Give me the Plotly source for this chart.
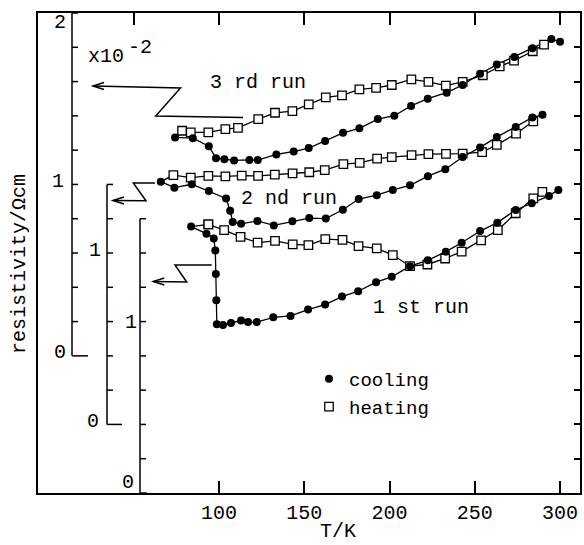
import plotly.graph_objects as go

# ---------------- data (resistivity in units of 1e-2 ohm cm, each run on its own axis) ----------------
run1_cool_T = [83.6, 92.6, 96.9, 97.8, 98.1, 98.4, 98.7, 102.3, 107.0, 112.9, 117.0, 122.1, 131.8, 141.9,
               152.2, 162.2, 172.1, 181.6, 192.1, 201.3, 212.0, 222.4, 233.0, 242.3, 253.1, 263.2, 274.0,
               283.4, 293.5, 299.0]
run1_cool_rho = [1.554, 1.513, 1.485, 1.415, 1.277, 1.125, 0.984, 0.980, 0.992, 1.006, 0.997, 0.997, 1.025,
                 1.033, 1.070, 1.099, 1.146, 1.177, 1.230, 1.261, 1.323, 1.357, 1.408, 1.460, 1.528, 1.577,
                 1.651, 1.690, 1.733, 1.768]
run1_heat_T = [93.7, 103.0, 112.6, 122.6, 132.8, 143.2, 152.4, 162.3, 172.4, 181.8, 192.5, 201.9, 212.0,
               222.2, 232.6, 242.3, 253.7, 263.5, 274.0, 284.3, 289.6]
run1_heat_rho = [1.567, 1.533, 1.494, 1.460, 1.471, 1.450, 1.446, 1.481, 1.477, 1.440, 1.427, 1.388, 1.323,
                 1.333, 1.368, 1.408, 1.474, 1.534, 1.632, 1.719, 1.756]

run2_cool_T = [65.8, 73.8, 84.0, 94.0, 104.1, 106.5, 108.0, 112.9, 122.5, 132.1, 143.0, 152.9, 162.6, 172.6,
               181.9, 192.5, 201.9, 212.0, 222.5, 232.7, 242.9, 253.1, 262.9, 274.0, 283.8, 289.7]
run2_cool_rho = [1.416, 1.381, 1.401, 1.362, 1.318, 1.247, 1.181, 1.170, 1.187, 1.161, 1.185, 1.204, 1.201,
                 1.252, 1.315, 1.337, 1.368, 1.395, 1.448, 1.489, 1.560, 1.616, 1.676, 1.735, 1.791, 1.806]
run2_heat_T = [73.2, 83.4, 93.7, 103.7, 113.3, 122.9, 132.7, 143.1, 152.9, 162.0, 172.9, 182.5, 192.7, 201.3,
               212.9, 222.8, 233.1, 242.9, 254.3, 262.9, 274.2, 284.3]
run2_heat_rho = [1.454, 1.440, 1.450, 1.447, 1.451, 1.450, 1.457, 1.465, 1.471, 1.484, 1.518, 1.526, 1.551,
                 1.559, 1.571, 1.577, 1.578, 1.580, 1.588, 1.631, 1.696, 1.768]

run3_cool_T = [74.2, 84.6, 94.0, 98.2, 103.1, 108.8, 117.8, 122.7, 133.6, 143.8, 152.6, 162.2, 172.7, 182.3,
               193.1, 202.8, 212.6, 222.4, 233.5, 242.9, 253.1, 262.9, 273.2, 283.8, 294.9, 300.0]
run3_cool_rho = [1.274, 1.270, 1.223, 1.153, 1.147, 1.140, 1.143, 1.142, 1.175, 1.192, 1.212, 1.253, 1.301,
                 1.327, 1.381, 1.401, 1.458, 1.500, 1.535, 1.580, 1.646, 1.699, 1.744, 1.795, 1.849, 1.832]
run3_heat_T = [78.3, 83.4, 93.7, 103.7, 111.1, 123.0, 132.8, 143.0, 152.6, 162.6, 172.1, 182.3, 192.1, 201.3,
               212.8, 222.8, 233.0, 242.9, 254.7, 264.6, 273.0, 284.0, 290.6]
run3_heat_rho = [1.313, 1.304, 1.304, 1.323, 1.330, 1.381, 1.418, 1.428, 1.467, 1.508, 1.520, 1.555, 1.563,
                 1.580, 1.613, 1.598, 1.576, 1.598, 1.637, 1.689, 1.722, 1.777, 1.816]

run_labels = ["1 st run", "2 nd run", "3 rd run"]
run_offsets = [0.0, 0.4, 0.8]          # vertical shift of each run's own axis
x_tick_vals = [100, 150, 200, 250, 300]
top_tick_vals = [50, 100, 150, 200, 250, 300]

# ---------------- layout geometry (page pixels; body margin removed in post_script) ----------------
W, H = 584, 545
PAGE_L, PAGE_R, PAGE_T, PAGE_B = 38, 580, 13, 493
ML, MT = PAGE_L, PAGE_T
MR = W - PAGE_R
MB = H - PAGE_B
PW, PH = PAGE_R - PAGE_L, PAGE_B - PAGE_T
XR = [-6.2, 311.7]
YR = [0.0, 2.8]
FONT = "Liberation Mono, Courier New, monospace"


def pxp(px):
    return (px - PAGE_L) / PW


def pyp(py):
    return (PAGE_B - py) / PH


def py2y(py):
    return YR[0] + pyp(py) * (YR[1] - YR[0])


fig = go.Figure()

runs = [
    (run1_cool_T, run1_cool_rho, run1_heat_T, run1_heat_rho),
    (run2_cool_T, run2_cool_rho, run2_heat_T, run2_heat_rho),
    (run3_cool_T, run3_cool_rho, run3_heat_T, run3_heat_rho),
]
LW = 1.3
for i, (cT, cR, hT, hR) in enumerate(runs):
    off = run_offsets[i]
    cY = [v + off for v in cR]
    hY = [v + off for v in hR]
    # heating starts where cooling ended (lowest temperature)
    fig.add_trace(go.Scatter(x=[cT[0]] + hT, y=[cY[0]] + hY, mode="lines",
                             line=dict(color="black", width=LW), showlegend=False, hoverinfo="skip"))
    fig.add_trace(go.Scatter(x=cT, y=cY, mode="lines",
                             line=dict(color="black", width=LW), showlegend=False, hoverinfo="skip"))
    fig.add_trace(go.Scatter(x=hT, y=hY, mode="markers", name="heating", legendgroup="h",
                             marker=dict(symbol="square", size=8.5, color="white",
                                         line=dict(color="black", width=1.3)),
                             showlegend=False))
    fig.add_trace(go.Scatter(x=cT, y=cY, mode="markers", name="cooling", legendgroup="c",
                             marker=dict(symbol="circle", size=8, color="black"),
                             showlegend=(i == 0), legendrank=1))

# legend entry for heating
fig.add_trace(go.Scatter(x=[run1_heat_T[0]], y=[run1_heat_rho[0]], mode="markers", name="heating",
                         legendgroup="h", legendrank=2,
                         marker=dict(symbol="square", size=8.5, color="white",
                                     line=dict(color="black", width=1.3)),
                         showlegend=True))

# invisible trace to carry the secondary (top/right) axes
fig.add_trace(go.Scatter(x=[XR[0]], y=[YR[0]], xaxis="x2", yaxis="y2", mode="markers",
                         marker=dict(opacity=0), showlegend=False, hoverinfo="skip"))

shapes = []
annos = []


def line(x0, y0, x1, y1, xref="paper", yref="y", w=1.5):
    shapes.append(dict(type="line", x0=x0, y0=y0, x1=x1, y1=y1, xref=xref, yref=yref,
                       line=dict(color="black", width=w)))


def text(px, py, s, size=20, angle=0):
    annos.append(dict(x=pxp(px), y=pyp(py), xref="paper", yref="paper", text=s, showarrow=False,
                      textangle=angle, xanchor="center", yanchor="middle",
                      font=dict(family=FONT, size=size, color="black")))


# inner axes: (axis pixel x, bottom value in C units, top value, bottom L length)
inner_axes = [
    (72, 0.8, 2.8, 16),
    (107, 0.4, 1.8, 15),
    (140, 0.0, 1.6, 7),
]
for ax_px, lo, hi, Llen in inner_axes:
    line(pxp(ax_px), lo, pxp(ax_px), hi)
    n = int(round((hi - lo) / 0.2))
    for k in range(n + 1):
        v = lo + 0.2 * k
        ln = Llen if k == 0 else 6
        line(pxp(ax_px), v, pxp(ax_px + ln), v)

# inner axis labels
text(60, 22, "2"); text(58, 181, "1"); text(60, 353, "0")
text(95, 250, "1"); text(93, 421, "0")
text(131, 322, "1"); text(128, 482, "0")

# x10^-2
text(106, 56, "x10")
text(140, 48, "-2")

# run labels
text(258, 82, run_labels[2])
text(289, 199, run_labels[1])
text(421, 307, run_labels[0])

# axis titles
text(338, 531, "T/K")
text(19, 264, "resistivity/\u03a9cm", angle=-90)


# zigzag arrows pointing to each run's axis (page pixel coordinates)
def zig(pts):
    d = "M " + " L ".join(f"{pxp(a):.5f},{py2y(b):.5f}" for a, b in pts)
    shapes.append(dict(type="path", path=d, xref="paper", yref="y", line=dict(color="black", width=1.5)))
    tx, ty = pts[-1]
    d2 = (f"M {pxp(tx + 11):.5f},{py2y(ty - 3.5):.5f} L {pxp(tx):.5f},{py2y(ty):.5f} "
          f"L {pxp(tx + 11):.5f},{py2y(ty + 3.5):.5f}")
    shapes.append(dict(type="path", path=d2, xref="paper", yref="y", line=dict(color="black", width=1.5)))


zig([(243, 117.5), (155.7, 116), (180.5, 88), (93, 86)])
zig([(155, 183), (133.3, 183), (146, 200.7), (113, 200.5)])
zig([(211.7, 265), (175, 265), (186.7, 282), (153.3, 281.5)])

fig.update_layout(
    width=W, height=H,
    margin=dict(l=ML, r=MR, t=MT, b=MB, autoexpand=False),
    paper_bgcolor="white", plot_bgcolor="white",
    font=dict(family=FONT, size=20, color="black"),
    shapes=shapes, annotations=annos,
    showlegend=True,
    legend=dict(x=pxp(309), y=pyp(360), xanchor="left", yanchor="top", xref="paper", yref="paper",
                bgcolor="rgba(0,0,0,0)", font=dict(family=FONT, size=19, color="black"),
                traceorder="normal", itemwidth=30),
    xaxis=dict(range=XR, showline=True, mirror=True, linecolor="black", linewidth=1.8,
               tickmode="array", tickvals=x_tick_vals, ticktext=[str(v) for v in x_tick_vals],
               ticks="inside", ticklen=12, tickwidth=1.5, tickcolor="black",
               showgrid=False, zeroline=False, tickfont=dict(family=FONT, size=20)),
    xaxis2=dict(range=XR, overlaying="x", side="top", tickmode="array", tickvals=top_tick_vals,
                ticks="inside", ticklen=12, tickwidth=1.5, tickcolor="black", showticklabels=False,
                showgrid=False, zeroline=False, showline=False),
    yaxis=dict(range=YR, showline=True, mirror=True, linecolor="black", linewidth=1.8,
               showticklabels=False, ticks="", showgrid=False, zeroline=False),
    yaxis2=dict(range=YR, overlaying="y", side="right", tickmode="array",
                tickvals=[round(0.2 * k, 1) for k in range(15)],
                ticks="inside", ticklen=6, tickwidth=1.5, tickcolor="black", showticklabels=False,
                showgrid=False, zeroline=False, showline=False),
)

fig.write_html("out.html", config={"displayModeBar": False},
               post_script="document.body.style.margin='0';document.body.style.overflow='hidden';")
